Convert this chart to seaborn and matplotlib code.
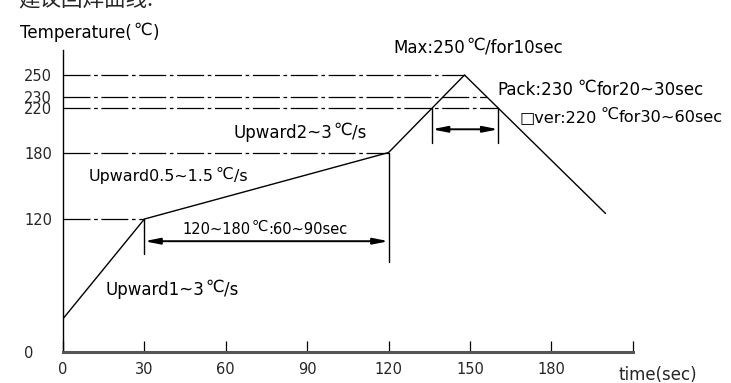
import numpy as np
import pandas as pd
import matplotlib
matplotlib.use("Agg")
import matplotlib.pyplot as plt
import seaborn as sns

# ---------------- data ----------------
profile_time = [0, 30, 120, 148, 200]
profile_temp = [30, 120, 180, 250, 125]

ytick_values = [0, 120, 180, 220, 230, 250]
ytick_labels = ["0", "120", "180", "220", "230", "250"]
xtick_values = [0, 30, 60, 90, 120, 150, 180, 210]
xtick_labels = ["0", "30", "60", "90", "120", "150", "180", ""]

ref_levels = [250, 230, 220, 180, 120]
ref_sides = ["rise", "fall", "fall", "rise", "rise"]

soak_range = [30, 120]          # 120~180 ℃ : 60~90 sec
soak_dim_level = 100
soak_ext_bottoms = [88, 81]
reflow_level = 220              # time above 220 ℃
reflow_dim_level = 201
reflow_ext_bottom = 189

title_text = "建议回焊曲线:"
x_title = "time(sec)"
unit = "℃"
y_title_parts = ["Temperature(", unit, ")"]
note_parts = [
    ["Max:250", unit, "/for10sec"],
    ["Pack:230", unit, "for20~30sec"],
    ["□ver:220", unit, "for30~60sec"],
    ["Upward2~3", unit, "/s"],
    ["Upward0.5~1.5", unit, "/s"],
    ["120~180", unit, ":60~90sec"],
    ["Upward1~3", unit, "/s"],
]
# layout: data coords of each note's left/center, font size, gaps (pt)
note_pos = [(121.7, 274.4), (160, 236.5), (168.1, 212), (62.7, 197.7),
            (9.6, 158), (43.9, 111), (15.5, 56)]
note_size = [12, 12, 11.6, 12, 11.4, 10.5, 12]
note_gap = [1, 3.5, 3.0, 1, 1, 1, 1]
note_after = [0.3, 0.3, 0.3, 0.3, 0.3, 0.0, 0.3]

# ---------------- style ----------------
sns.set_style("white")
plt.rcParams["font.family"] = ["DejaVu Sans", "Noto Sans CJK SC"]

W, H = 731, 383
fig = plt.figure(figsize=(W / 100, H / 100), dpi=100)
ax = fig.add_axes([63 / W, 31 / H, (632.7 - 63) / W, (352 - 50) / H])
ax.set_xlim(0, 210)
ax.set_ylim(0, (352 - 50) / 1.108)

df = pd.DataFrame({"time": profile_time, "temp": profile_temp})
sns.lineplot(data=df, x="time", y="temp", ax=ax, color="black", lw=1.0,
             estimator=None, sort=False)

rise_t = np.array(profile_time[:4], dtype=float)
rise_T = np.array(profile_temp[:4], dtype=float)
fall_t = np.array(profile_time[3:], dtype=float)[::-1]
fall_T = np.array(profile_temp[3:], dtype=float)[::-1]


def t_at(level, side):
    if side == "rise":
        return float(np.interp(level, rise_T, rise_t))
    return float(np.interp(level, fall_T, fall_t))


dash = (0, (21.6, 2.9, 2.9, 2.9))
for lev, side in zip(ref_levels, ref_sides):
    ax.plot([0, t_at(lev, side)], [lev, lev], color="black", lw=0.9,
            linestyle=dash)

# dimension: soak
ax.plot([soak_range[0]] * 2, [profile_temp[1], soak_ext_bottoms[0]],
        color="black", lw=1.0)
ax.plot([soak_range[1]] * 2, [profile_temp[2], soak_ext_bottoms[1]],
        color="black", lw=1.0)
arrow = dict(arrowstyle="<|-|>,head_length=0.9,head_width=0.18",
             color="black", lw=1.4, shrinkA=0, shrinkB=0)
ax.annotate("", xy=(soak_range[0], soak_dim_level),
            xytext=(soak_range[1], soak_dim_level), arrowprops=arrow)

# dimension: reflow above 220
t1 = t_at(reflow_level, "rise")
t2 = t_at(reflow_level, "fall")
for tt in (t1, t2):
    ax.plot([tt, tt], [reflow_level, reflow_ext_bottom], color="black", lw=1.0)
ax.annotate("", xy=(t1, reflow_dim_level), xytext=(t2, reflow_dim_level),
            arrowprops=arrow)


def rich_text(x, y, parts, size, gap=1, after=0.3, sup_scale=1.0,
              sup_raise=0.16):
    base = ax.text(x, y, parts[0], fontsize=size, ha="left", va="center",
                   color="black")
    sup = ax.annotate(parts[1], xy=(1, sup_raise), xycoords=(base, base),
                      xytext=(gap, 0), textcoords="offset points",
                      fontsize=size * sup_scale, ha="left", va="bottom",
                      color="black", family=["DejaVu Sans"])
    ax.annotate(parts[2], xy=(1, 0), xycoords=(sup, base),
                xytext=(after, 0), textcoords="offset points",
                fontsize=size, ha="left", va="bottom", color="black")


for parts, (px, py), sz, g, a in zip(note_parts, note_pos, note_size,
                                     note_gap, note_after):
    rich_text(px, py, parts, sz, gap=g, after=a)

rich_text(-15.9, 288, y_title_parts, 12, gap=1.5)
ax.text(204.6, -20.8, x_title, fontsize=12, ha="left", va="center")
fig.text(18 / W, 1 - 5 / H, title_text, fontsize=15.5, ha="left",
         va="baseline", family=["Noto Sans CJK SC", "DejaVu Sans"])

# axes
ax.set_xlabel("")
ax.set_ylabel("")
ax.set_xticks(xtick_values)
ax.set_xticklabels(xtick_labels)
ax.set_yticks(ytick_values)
ax.set_yticklabels(ytick_labels)
ax.tick_params(axis="x", direction="in", length=8, width=0.9, color="black",
               labelsize=10.5, pad=7, bottom=True)
ax.tick_params(axis="y", length=0, labelsize=10.5, pad=28)
for lab in ax.get_yticklabels():
    lab.set_ha("left")
for s in ("top", "right"):
    ax.spines[s].set_visible(False)
ax.spines["left"].set_color("black")
ax.spines["left"].set_linewidth(1.0)
ax.spines["bottom"].set_color("#555555")
ax.spines["bottom"].set_linewidth(2.2)
ax.grid(False)

fig.savefig("out.png", dpi=100)
